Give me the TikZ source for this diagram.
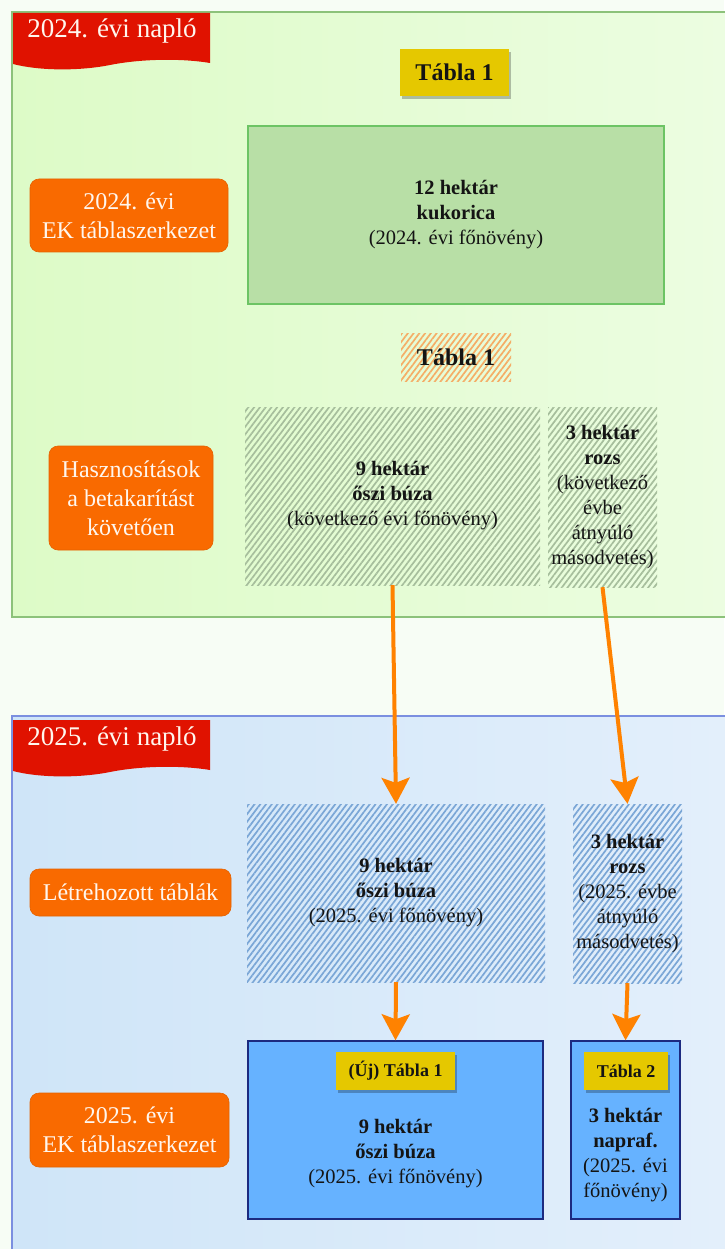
\documentclass[tikz,border=0pt]{standalone}
\usepackage{fontspec}
\setmainfont{Liberation Serif}
\usetikzlibrary{patterns.meta,arrows.meta,shadows}
\definecolor{pagebg}{HTML}{F7FDF5}
\definecolor{gpanelL}{HTML}{DDFBC7}
\definecolor{gpanelR}{HTML}{ECFDE1}
\definecolor{gborder}{HTML}{8CC27A}
\definecolor{gbox}{HTML}{B8DFA6}
\definecolor{gboxb}{HTML}{6CC464}
\definecolor{hatchG}{HTML}{A6BE9C}
\definecolor{bpanelL}{HTML}{CFE5F8}
\definecolor{bpanelR}{HTML}{E3EFFB}
\definecolor{bborder}{HTML}{7B8FE0}
\definecolor{hatchB}{HTML}{7AA6D6}
\definecolor{bbox}{HTML}{66B2FF}
\definecolor{bboxb}{HTML}{1C2A80}
\definecolor{orng}{HTML}{F96A00}
\definecolor{arrowor}{HTML}{FF8200}
\definecolor{hatchO}{HTML}{F5AD66}
\definecolor{yel}{HTML}{E5C800}
\definecolor{bannerred}{HTML}{E01200}
\definecolor{txt}{HTML}{141414}
\definecolor{wtxt}{HTML}{FFF6EE}
\tikzset{
  body/.style={font=\fontsize{20.5}{25}\selectfont, align=center, text=txt, inner sep=0pt},
  hatchbox/.style={body, pattern={Lines[angle=53,distance=4.6pt,line width=1.7pt]}, pattern color=#1},
  orbox/.style={fill=orng, draw=orng!92!black, line width=0.6pt, rounded corners=9pt, text=wtxt, align=center, inner sep=0pt, font=\fontsize{24}{29}\selectfont},
  tag/.style={fill=yel, align=center, inner sep=0pt, text=txt, drop shadow={shadow xshift=2pt, shadow yshift=-3pt, fill=black, opacity=0.25}},
  arr/.style={draw=arrowor, line width=4pt, -{Stealth[length=26pt,width=28pt,inset=5pt]}},
  bannertxt/.style={font=\fontsize{27}{30}\selectfont, text=wtxt, anchor=base}
}
\begin{document}
\begin{tikzpicture}[x=1pt,y=-1pt]
\useasboundingbox (0,0) rectangle (724,1249);
\fill[pagebg] (0,0) rectangle (724,1249);
% ---------- 2024 panel
\path[left color=gpanelL, right color=gpanelR] (12,12) rectangle (726,617);
\draw[gborder, line width=2pt] (726,12) -- (12,12) -- (12,617) -- (726,617);
\fill[bannerred] (13,13) -- (210,13) -- (210,63) .. controls (180,58) and (140,59) .. (110,65) .. controls (80,71) and (40,71) .. (13,64) -- cycle;
\node[bannertxt] (b24) at (112,38) {2024. évi napló};

\node[tag, minimum width=109, minimum height=47, font=\bfseries\fontsize{24}{28}\selectfont] (t1) at (454.5,72.5) {Tábla 1};
\node[body, fill=gbox, draw=gboxb, line width=2pt, minimum width=416, minimum height=178] (kuk) at (456,215)
  {\textbf{12 hektár}\\\textbf{kukorica}\\(2024. évi főnövény)};
\node[orbox, minimum width=198, minimum height=73] (ek24) at (129,215.5) {2024. évi\\EK táblaszerkezet};

\node[hatchbox=hatchO, minimum width=110, minimum height=48, font=\bfseries\fontsize{24}{28}\selectfont] (t1h) at (456,357) {Tábla 1};
\node[hatchbox=hatchG, minimum width=295, minimum height=178] (gb) at (392.5,496)
  {\textbf{9 hektár}\\\textbf{őszi búza}\\(következő évi főnövény)};
\node[hatchbox=hatchG, minimum width=109, minimum height=180] (gr) at (602.5,497)
  {\textbf{3 hektár}\\\textbf{rozs}\\(következő\\évbe\\átnyúló\\másodvetés)};
\node[orbox, minimum width=164, minimum height=104] (hasz) at (131,498) {Hasznosítások\\a betakarítást\\követően};

% ---------- 2025 panel
\path[left color=bpanelL, right color=bpanelR] (12,716) rectangle (726,1251);
\draw[bborder, line width=2pt] (726,716) -- (12,716) -- (12,1251);
\fill[bannerred] (13,720) -- (210,720) -- (210,770) .. controls (180,765) and (140,766) .. (110,772) .. controls (80,778) and (40,778) .. (13,771) -- cycle;
\node[bannertxt] (b25) at (112,745) {2025. évi napló};

\node[hatchbox=hatchB, minimum width=298, minimum height=178] (bb) at (396,893)
  {\textbf{9 hektár}\\\textbf{őszi búza}\\(2025. évi főnövény)};
\node[hatchbox=hatchB, minimum width=109, minimum height=179] (br) at (627.5,893.5)
  {\textbf{3 hektár}\\\textbf{rozs}\\(2025. évbe\\átnyúló\\másodvetés)};
\node[orbox, minimum width=201, minimum height=47] (letr) at (130.5,892.5) {Létrehozott táblák};

\node[body, fill=bbox, draw=bboxb, line width=1.4pt, minimum width=295, minimum height=178] (nb) at (395.5,1130) {};
\node[tag, minimum width=119, minimum height=38, font=\bfseries\fontsize{18}{22}\selectfont] (t1n) at (395.5,1071) {(Új) Tábla 1};
\node[body] (nbt) at (395.5,1154) {\textbf{9 hektár}\\\textbf{őszi búza}\\(2025. évi főnövény)};

\node[body, fill=bbox, draw=bboxb, line width=1.4pt, minimum width=109, minimum height=178] (nr) at (625.5,1130) {};
\node[tag, minimum width=84, minimum height=38, font=\bfseries\fontsize{18}{22}\selectfont] (t2) at (626,1071) {Tábla 2};
\node[body] (nrt) at (625.5,1155) {\textbf{3 hektár}\\\textbf{napraf.}\\(2025. évi\\főnövény)};

\node[orbox, minimum width=199, minimum height=74] (ek25) at (129.5,1130) {2025. évi\\EK táblaszerkezet};

% ---------- arrows
\draw[arr] (gb.south) -- (bb.north);
\draw[arr] (gr.south) -- (br.north);
\draw[arr] (bb.south) -- (nb.north);
\draw[arr] (br.south) -- (nr.north);
\end{tikzpicture}
\end{document}
